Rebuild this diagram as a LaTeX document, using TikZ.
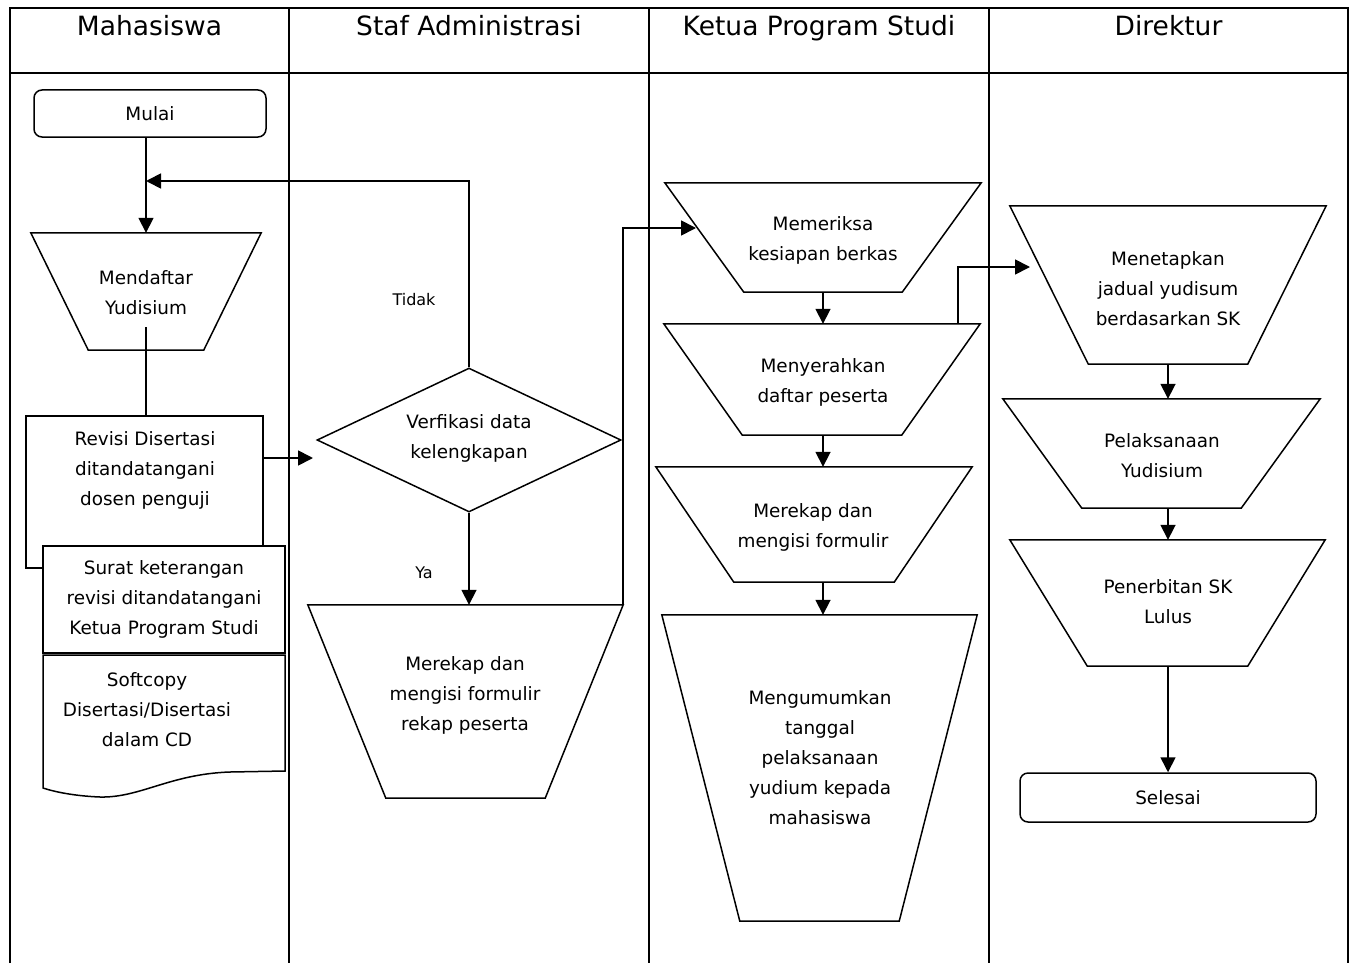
\documentclass[tikz,border=0pt]{standalone}
\usepackage{fontspec}
\setmainfont{DejaVu Sans}
\usetikzlibrary{shapes.geometric,arrows.meta,calc}
\newcommand\trapline[2]{\draw[shp] (#1.north west) -- (#1.north east) -- ([xshift=-#2pt]#1.south east) -- ([xshift=#2pt]#1.south west) -- cycle;}
\tikzset{
  lane/.style={line width=1.2pt},
  shp/.style={draw, line width=1.5pt},
  txt/.style={align=center, font=\fontsize{18.4}{30}\selectfont, inner sep=0pt},
  hdr/.style={font=\fontsize{26.5}{30}\selectfont, anchor=base, inner sep=0pt},
  lbl/.style={font=\fontsize{16}{18}\selectfont, inner sep=0pt},
  tbox/.style={rectangle, draw=none, inner sep=0pt},
  arr/.style={line width=1.7pt, -{Triangle[length=15pt,width=15pt]}},
  conn/.style={line width=1.6pt},
  term/.style={shp, rectangle, rounded corners=8pt, inner sep=0pt, align=center, font=\fontsize{18.4}{30}\selectfont},
}
\begin{document}
\begin{tikzpicture}[x=1pt,y=-1pt]
\useasboundingbox (0,0) rectangle (1356,963);
% lanes
\draw[lane] (10,963) -- (10,8) -- (1348,8) -- (1348,963);
\draw[lane] (10,73) -- (1348,73);
\draw[lane] (289,8) -- (289,963);
\draw[lane] (649,8) -- (649,963);
\draw[lane] (989,8) -- (989,963);
\node[hdr] (hMah) at (149.5,36) {Mahasiswa};
\node[hdr] (hStaf) at (469,36) {Staf Administrasi};
\node[hdr] (hKetua) at (819,36) {Ketua Program Studi};
\node[hdr] (hDir) at (1168.5,36) {Direktur};

% Mahasiswa lane
\node[term, minimum width=232pt, minimum height=47pt] (mulai) at (150,113.5) {Mulai};
\node[tbox, minimum width=230pt, minimum height=117pt] (mendaftar) at (146,291.5) {};
\trapline{mendaftar}{57.5}
\node[txt] (mendaftar-t) at (146,293) {Mendaftar\\Yudisium};
\node[shp, rectangle, minimum width=237pt, minimum height=152pt, inner sep=0pt] (revisi) at (144.5,492) {};
\node[txt] (revisi-t) at (145,470) {Revisi Disertasi\\ditandatangani\\dosen penguji};
\node[shp, txt, fill=white, minimum width=242pt, minimum height=107pt] (surat) at (164,599.5) {Surat keterangan\\revisi ditandatangani\\Ketua Program Studi};
\draw[shp] (43,655) -- (285,655) -- (285,771) -- (230,772) .. controls (170,774) and (140,798) .. (100,797) .. controls (75,796) and (55,792) .. (43,788) -- cycle;
\node[txt] (softcopy) at (147,710) {Softcopy\\Disertasi/Disertasi\\dalam CD};

% Staf lane
\node[shp, diamond, minimum width=304pt, minimum height=144pt, inner sep=0pt] (verif) at (469,440) {};
\node[txt] (verif-t) at (469,438) {Verfikasi data\\kelengkapan};
\node[tbox, minimum width=315pt, minimum height=193pt] (merekap1) at (465.5,701.5) {};
\trapline{merekap1}{78}
\node[txt] (merekap1-t) at (465,695) {Merekap dan\\mengisi formulir\\rekap peserta};
\node[lbl] (tidak) at (414,300) {Tidak};
\node[lbl] (ya) at (424,573) {Ya};

% Ketua lane
\node[tbox, minimum width=316pt, minimum height=109pt] (memeriksa) at (823,237.5) {};
\trapline{memeriksa}{79}
\node[txt] (memeriksa-t) at (823,240) {Memeriksa\\kesiapan berkas};
\node[tbox, minimum width=316pt, minimum height=111pt] (menyerahkan) at (822,379.5) {};
\trapline{menyerahkan}{78.5}
\node[txt] (menyerahkan-t) at (823,382) {Menyerahkan\\daftar peserta};
\node[tbox, minimum width=316pt, minimum height=115pt] (merekap2) at (814,524.5) {};
\trapline{merekap2}{78}
\node[txt] (merekap2-t) at (813,527) {Merekap dan\\mengisi formulir};
\node[tbox, minimum width=315pt, minimum height=306pt] (umum) at (819.5,768) {};
\trapline{umum}{78}
\node[txt] (umum-t) at (820,758) {Mengumumkan\\tanggal\\pelaksanaan\\yudium kepada\\mahasiswa};

% Direktur lane
\node[tbox, minimum width=316pt, minimum height=158pt] (menetapkan) at (1168,285) {};
\trapline{menetapkan}{78.5}
\node[txt] (menetapkan-t) at (1168,289) {Menetapkan\\jadual yudisum\\berdasarkan SK};
\node[tbox, minimum width=317pt, minimum height=109pt] (pelaksanaan) at (1161.5,453.5) {};
\trapline{pelaksanaan}{79}
\node[txt] (pelaksanaan-t) at (1162,456) {Pelaksanaan\\Yudisium};
\node[tbox, minimum width=315pt, minimum height=126pt] (penerbitan) at (1167.5,603) {};
\trapline{penerbitan}{77.5}
\node[txt] (penerbitan-t) at (1168,602) {Penerbitan SK\\Lulus};
\node[term, minimum width=296pt, minimum height=49pt] (selesai) at (1168,797.5) {Selesai};

% connectors
\coordinate (join) at (146,181);
\coordinate (vIn) at (313,458);
\coordinate (kIn) at (696,228);
\coordinate (sx) at (958,0);
\coordinate (dIn) at (1030,267);
\coordinate (colK) at (823,0);
\coordinate (colD) at (1168,0);

\draw[arr] (mulai.south -| mendaftar.north) -- (mendaftar.north);
\draw[arr] (verif.north) |- (join);
\draw[conn] ($(mendaftar-t.south)+(0,12)$) -- (mendaftar-t.south |- revisi.north);
\draw[arr] (revisi.east |- vIn) -- (vIn);
\draw[arr] (verif.south) -- (merekap1.north -| verif.south);
\draw[arr] (merekap1.north east) |- (kIn);
\draw[arr] (memeriksa.south -| colK) -- (menyerahkan.north -| colK);
\draw[arr] (menyerahkan.north -| sx) |- (dIn);
\draw[arr] (menyerahkan.south -| colK) -- (merekap2.north -| colK);
\draw[arr] (merekap2.south -| colK) -- (umum.north -| colK);
\draw[arr] (menetapkan.south -| colD) -- (pelaksanaan.north -| colD);
\draw[arr] (pelaksanaan.south -| colD) -- (penerbitan.north -| colD);
\draw[arr] (penerbitan.south -| colD) -- (selesai.north -| colD);
\end{tikzpicture}
\end{document}
